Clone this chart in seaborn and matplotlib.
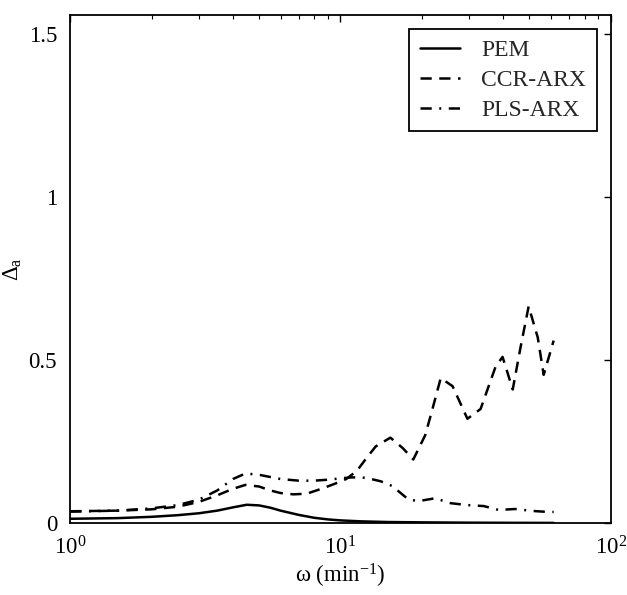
import numpy as np
import pandas as pd
import matplotlib
matplotlib.use("Agg")
import matplotlib.pyplot as plt
import seaborn as sns
from matplotlib.ticker import LogLocator, NullFormatter

# ---- data ----
pem_w = [1, 1.5, 2, 2.5, 3, 3.5, 4, 4.5, 5, 5.5, 6, 7, 8, 9, 10, 12, 15, 20, 30, 45, 61.5]
pem_v = [0.013, 0.015, 0.019, 0.024, 0.030, 0.038, 0.048, 0.056, 0.054, 0.047, 0.038,
         0.025, 0.016, 0.011, 0.008, 0.005, 0.003, 0.002, 0.001, 0.0005, 0.0003]

ccr_w = [1, 1.5, 2, 2.5, 3, 3.5, 4, 4.45, 5, 5.5, 6, 6.7, 7.5, 8.5, 9.5, 10.5, 11.5, 12.5,
         13.5, 15.3, 17, 18.6, 20.6, 21.9, 23.5, 26.0, 29.5, 33.0, 37.5, 39.8, 43.4,
         46.4, 49.7, 53.7, 56.5, 61.5]
ccr_v = [0.036, 0.038, 0.042, 0.050, 0.065, 0.085, 0.105, 0.117, 0.112, 0.100, 0.092,
         0.088, 0.090, 0.105, 0.120, 0.135, 0.160, 0.200, 0.235, 0.262, 0.230, 0.195,
         0.270, 0.350, 0.445, 0.420, 0.320, 0.350, 0.480, 0.510, 0.410, 0.540, 0.665,
         0.570, 0.455, 0.560]

pls_w = [1, 1.5, 2, 2.5, 3, 3.5, 4, 4.45, 5, 6, 7, 8, 9, 10, 11, 12, 13, 14.1, 15.6,
         16.7, 17.8, 19.4, 22.4, 25.5, 29.5, 33.9, 38.5, 44.3, 51.4, 58.5, 61.5]
pls_v = [0.035, 0.038, 0.045, 0.055, 0.072, 0.100, 0.135, 0.152, 0.148, 0.135, 0.130,
         0.130, 0.133, 0.137, 0.140, 0.140, 0.135, 0.128, 0.113, 0.092, 0.073, 0.067,
         0.076, 0.061, 0.055, 0.052, 0.040, 0.043, 0.037, 0.034, 0.034]

series_names = ["PEM", "CCR-ARX", "PLS-ARX"]
x_ticks = [1, 10, 100]
x_tick_labels = [r"10$^{0}$", r"10$^{1}$", r"10$^{2}$"]
y_ticks = [0, 0.5, 1, 1.5]
y_tick_labels = ["0", "0.5", "1", "1.5"]

# ---- style ----
sns.set_theme(style="white")
plt.rcParams["font.family"] = ["Liberation Serif", "DejaVu Serif"]
plt.rcParams["mathtext.fontset"] = "custom"
plt.rcParams["mathtext.rm"] = "Liberation Serif"
plt.rcParams["mathtext.it"] = "Liberation Serif"

fig = plt.figure(figsize=(6.27, 5.95), dpi=100)
ax = fig.add_axes([0.112, 0.121, 0.862, 0.854])

df_pem = pd.DataFrame({"w": pem_w, "v": pem_v})
df_ccr = pd.DataFrame({"w": ccr_w, "v": ccr_v})
df_pls = pd.DataFrame({"w": pls_w, "v": pls_v})

LW = 1.8
sns.lineplot(data=df_pem, x="w", y="v", ax=ax, color="black", lw=LW,
             linestyle="-", label=series_names[0])
sns.lineplot(data=df_ccr, x="w", y="v", ax=ax, color="black", lw=LW,
             label=series_names[1])
sns.lineplot(data=df_pls, x="w", y="v", ax=ax, color="black", lw=LW,
             label=series_names[2])
lines = ax.get_lines()
lines[1].set_dashes([4.5, 3])
lines[2].set_dashes([4.5, 3, 0.8, 3])

ax.set_xscale("log")
ax.set_xlim(1, 100)
ax.set_ylim(0, 1.56)
ax.set_xticks(x_ticks)
ax.set_xticklabels(x_tick_labels)
ax.xaxis.set_minor_locator(LogLocator(base=10, subs=np.arange(2, 10)))
ax.xaxis.set_minor_formatter(NullFormatter())
ax.set_yticks(y_ticks)
ax.set_yticklabels(y_tick_labels)

for sp in ax.spines.values():
    sp.set_color("black")
    sp.set_linewidth(1.3)
ax.tick_params(axis="both", which="both", direction="in", top=True, right=True,
               colors="black", labelsize=16.5, pad=9.5)
ax.tick_params(which="major", length=5, width=1)
ax.tick_params(which="minor", length=3, width=0.8)

ax.set_xlabel("ω (min$^{-1}$)", fontsize=16.5, color="black", labelpad=2)
ax.set_ylabel("Δ$_{\\mathrm{a}}$", fontsize=16.5, color="black")
ax.yaxis.set_label_coords(-0.085, 0.5)

leg = ax.legend(loc="upper right", fontsize=17, frameon=True, fancybox=False,
                edgecolor="black", framealpha=1, borderaxespad=0.6,
                handlelength=1.7, handletextpad=0.9, labelspacing=0.35,
                borderpad=0.45)
leg.get_frame().set_linewidth(1.3)

fig.savefig("out.png", dpi=100)
